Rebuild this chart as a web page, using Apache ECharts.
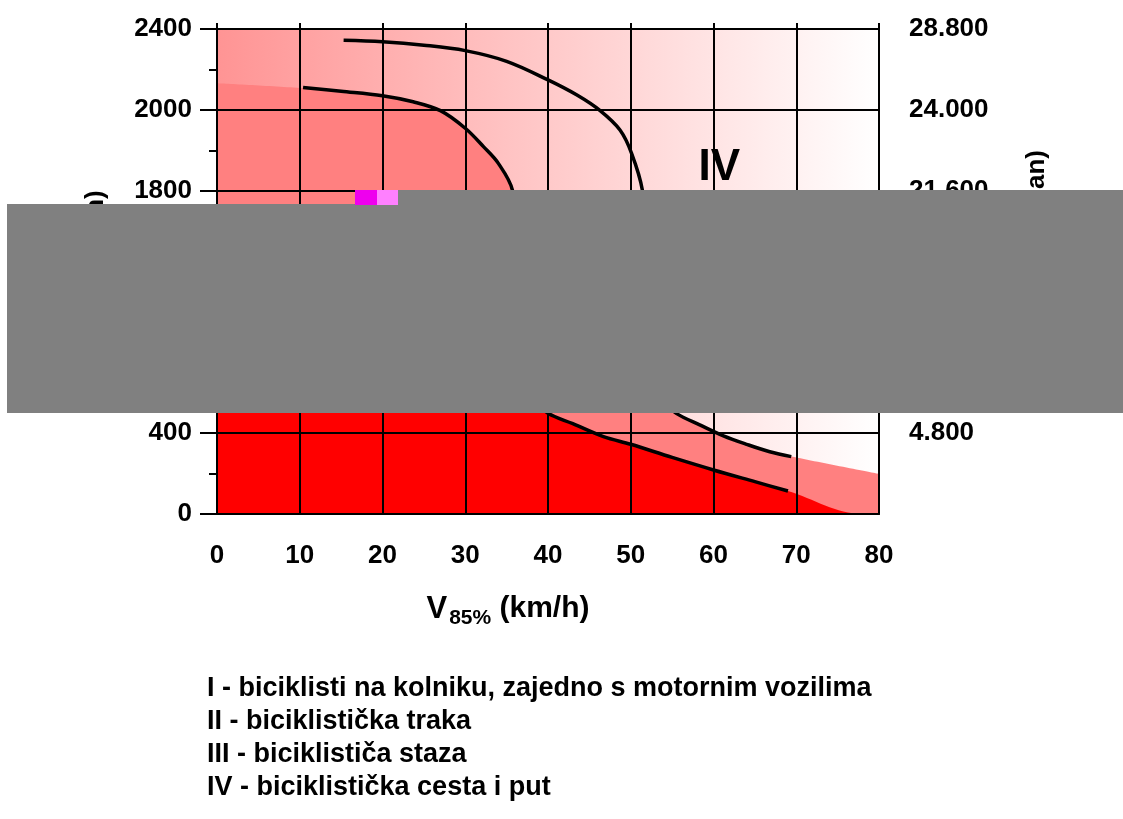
<!DOCTYPE html>
<html>
<head>
<meta charset="utf-8">
<script src="https://cdn.jsdelivr.net/npm/echarts@6/dist/echarts.min.js"></script>
<style>
  html, body { margin: 0; padding: 0; background: #fff; }
  #chart { width: 1123px; height: 819px; }
</style>
</head>
<body>
<div id="chart"></div>
<script>
// oznake osi
const leftTicks = ['0', '400', '800', '1200', '1800', '2000', '2400'];
const rightTicks = ['', '4.800', '9.600', '14.400', '21.600', '24.000', '28.800'];

// granicne krivulje [V85, voz/h]
const curveUpper = [[15.3, 2344], [20, 2337], [25, 2320], [30, 2293], [35, 2240], [40, 2148], [43.5, 2073],
  [46.3, 1996], [48.7, 1900], [50.1, 1785], [51.4, 1603], [52, 1300], [52.5, 1000], [53, 800],
  [53.8, 620], [54.6, 540], [55.5, 498], [58.4, 440], [61.2, 387], [64, 345], [66.8, 308], [69.4, 284]];
const curveLower = [[10.4, 2111], [15, 2092], [20, 2070], [23.7, 2040], [27, 1996], [30, 1909], [32.2, 1818],
  [34, 1735], [35.7, 1603], [36.5, 1300], [37, 1000], [37.5, 780], [38.2, 620], [39, 545], [40, 498],
  [43, 447], [46.7, 383], [50, 345], [55, 280], [60, 218], [65, 160], [69, 114]];

// gornje granice obojenih podrucja
const plotTop = [[0, 2400], [80, 2400]];
const zoneIITop = [[0, 2132], [10.4, 2108], [15, 2092], [20, 2070], [23.7, 2040], [27, 1996], [30, 1909],
  [32.2, 1818], [34, 1735], [35.7, 1603], [38, 1300], [42, 1000], [47, 750], [52, 600], [54.6, 540],
  [55.5, 498], [58.4, 440], [61.2, 387], [64, 345], [66.8, 308], [69.4, 284], [80, 198]];
const zoneITop = [[0, 1150], [20, 1100], [30, 950], [35, 750], [37.5, 620], [39, 545], [40, 498], [43, 447],
  [46.7, 383], [50, 345], [55, 280], [60, 218], [65, 160], [69, 114], [78, 0], [80, 0]];

const zoneLabels = ['IV'];
const zoneLabelPos = [[60.7, 1712]];

const legendLines = [
  'I - biciklisti na kolniku, zajedno s motornim vozilima',
  'II - biciklistička traka',
  'III - biciklističa staza',
  'IV - biciklistička cesta i put'
];

const FONT = "'Liberation Sans', Arial, sans-serif";
const black = { color: '#000', width: 2 };

const chart = echarts.init(document.getElementById('chart'));

chart.setOption({
  animation: false,
  backgroundColor: '#fff',
  title: {
    text: legendLines.join('\n'),
    left: 207,
    top: 672,
    padding: 0,
    textStyle: { fontFamily: FONT, fontSize: 27, fontWeight: 'bold', lineHeight: 33, color: '#000' }
  },
  grid: { left: 217, right: 244, top: 29, bottom: 305 },
  xAxis: [
    {
      type: 'value', min: 0, max: 80, interval: 10, position: 'bottom', z: 3,
      axisLine: { show: true, onZero: false, lineStyle: black },
      axisTick: { show: false },
      axisLabel: { margin: 29, color: '#000', fontFamily: FONT, fontSize: 26, fontWeight: 'bold' },
      splitLine: { show: true, lineStyle: black },
      name: '{v|V}{s|85%}{n| (km/h)}',
      nameLocation: 'middle',
      nameGap: 75,
      nameTextStyle: {
        padding: [0, 80, 0, 0],
        rich: {
          v: { fontFamily: FONT, fontSize: 31, fontWeight: 'bold', color: '#000', lineHeight: 40 },
          s: { fontFamily: FONT, fontSize: 21, fontWeight: 'bold', color: '#000', lineHeight: 22, verticalAlign: 'bottom', padding: [0, 0, 0, 2] },
          n: { fontFamily: FONT, fontSize: 30, fontWeight: 'bold', color: '#000', lineHeight: 40 }
        }
      }
    },
    {
      type: 'value', min: 0, max: 80, interval: 10, position: 'top', z: 3,
      axisLine: { show: true, onZero: false, lineStyle: black },
      axisTick: { show: true, length: 6, lineStyle: black },
      axisLabel: { show: false },
      splitLine: { show: false }
    }
  ],
  yAxis: [
    {
      type: 'value', min: 0, max: 2400, interval: 400, position: 'left', z: 3,
      axisLine: { show: true, onZero: false, lineStyle: black },
      axisTick: { show: true, length: 17, lineStyle: black },
      minorTick: { show: true, splitNumber: 2, length: 8, lineStyle: black },
      axisLabel: {
        margin: 25, color: '#000', fontFamily: FONT, fontSize: 26, fontWeight: 'bold',
        formatter: v => leftTicks[Math.round(v / 400)]
      },
      splitLine: { show: true, lineStyle: black },
      name: 'Promet (voz/h)',
      nameLocation: 'middle',
      nameGap: 108,
      nameTextStyle: { fontFamily: FONT, fontSize: 26, fontWeight: 'bold', color: '#000', padding: [0, 18, 0, 0] }
    },
    {
      type: 'value', min: 0, max: 2400, interval: 400, position: 'right', z: 3,
      axisLine: { show: true, onZero: false, lineStyle: black },
      axisTick: { show: false },
      axisLabel: {
        margin: 30, color: '#000', fontFamily: FONT, fontSize: 26, fontWeight: 'bold',
        formatter: v => rightTicks[Math.round(v / 400)]
      },
      splitLine: { show: false },
      name: 'Promet (voz/dan)',
      nameLocation: 'middle',
      nameGap: 145,
      nameTextStyle: { fontFamily: FONT, fontSize: 26, fontWeight: 'bold', color: '#000', padding: [0, 0, 0, 32] }
    }
  ],
  series: [
    {
      // podrucja III i IV - gradijent
      type: 'line', data: plotTop, symbol: 'none', silent: true, z: 1,
      lineStyle: { width: 0 },
      areaStyle: {
        opacity: 1,
        color: new echarts.graphic.LinearGradient(0, 0, 1, 0, [
          { offset: 0, color: '#FF9494' },
          { offset: 1, color: '#FFFFFF' }
        ])
      }
    },
    {
      // podrucje II
      type: 'line', data: zoneIITop, symbol: 'none', silent: true, z: 1,
      smooth: 0.35,
      lineStyle: { width: 0 },
      areaStyle: { color: '#FF8080', opacity: 1 }
    },
    {
      // podrucje I
      type: 'line', data: zoneITop, symbol: 'none', silent: true, z: 1,
      smooth: 0.35,
      lineStyle: { width: 0 },
      areaStyle: { color: '#FF0000', opacity: 1 }
    },
    {
      type: 'line', data: curveUpper, symbol: 'none', z: 4,
      smooth: 0.35,
      lineStyle: { color: '#000', width: 3.5 }
    },
    {
      type: 'line', data: curveLower, symbol: 'none', z: 4,
      smooth: 0.35,
      lineStyle: { color: '#000', width: 3.5 }
    },
    {
      type: 'scatter', data: zoneLabelPos, symbolSize: 0, z: 5,
      itemStyle: { opacity: 1 },
      label: {
        show: true, position: 'inside',
        formatter: p => zoneLabels[p.dataIndex],
        fontFamily: FONT, fontSize: 44, fontWeight: 'bold', color: '#000'
      }
    }
  ],
  graphic: [
    { type: 'rect', z: 100, shape: { x: 7, y: 204, width: 1116, height: 209 }, style: { fill: '#808080' } },
    { type: 'rect', z: 100, shape: { x: 355, y: 190, width: 768, height: 14 }, style: { fill: '#808080' } },
    { type: 'rect', z: 101, shape: { x: 355, y: 190, width: 22, height: 15 }, style: { fill: '#EE00EE' } },
    { type: 'rect', z: 101, shape: { x: 377, y: 190, width: 21, height: 15 }, style: { fill: '#FF80FF' } }
  ]
});
</script>
</body>
</html>
